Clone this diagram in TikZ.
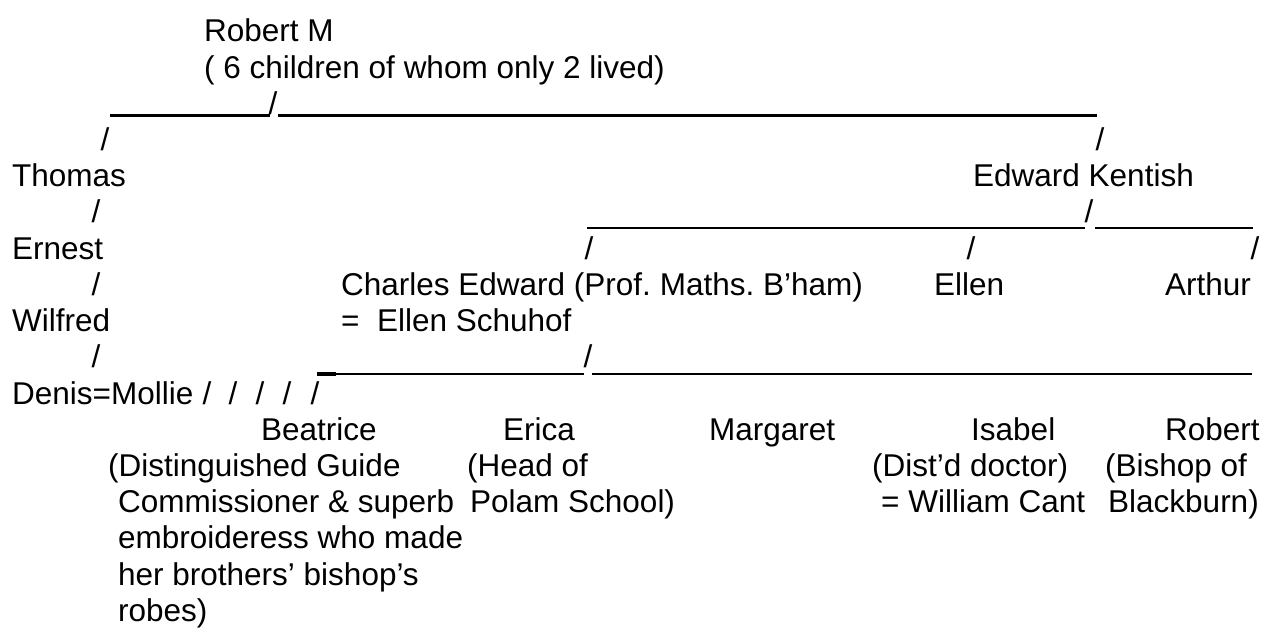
\documentclass[tikz,border=0pt]{standalone}
\usepackage{fontspec}
\setmainfont{Liberation Sans}
\usepackage{tikz}

\begin{document}
\begin{tikzpicture}[
  x=1pt, y=-1pt,
  person/.style={font=\fontsize{31.5}{36.2}\selectfont, inner sep=0pt, anchor=base west},
  slash/.style={font=\fontsize{31.5}{36.2}\selectfont, inner sep=0pt, anchor=base},
  bar/.style={line width=2pt},
  boldbar/.style={line width=3pt}
]
\useasboundingbox (0,0) rectangle (1270,631);

% first generation
\node[person] (robert) at (204,42) {Robert M};
\node[person] (kids) at (204,78.2) {( 6 children of whom only 2 lived)};

\coordinate (b1a) at (110,116);
\coordinate (b1b) at (270,116);
\coordinate (b1c) at (278,116);
\coordinate (b1d) at (1097,116);
\node[slash] (s1) at (273,114.4) {/};
\draw[boldbar] (b1a) -- (b1b);
\draw[boldbar] (b1c) -- (b1d);

\node[slash] (s2) at (105,150.6) {/};
\node[slash] (s3) at (1100,150.6) {/};

\node[person] (thomas) at (12,186.8) {Thomas};
\node[person] (edward) at (973,186.8) {Edward Kentish};

% Thomas line
\node[slash] (s4) at (96,223) {/};
\node[person] (ernest) at (12,259.2) {Ernest};
\node[slash] (s5) at (96,295.4) {/};
\node[person] (wilfred) at (12,331.6) {Wilfred};
\node[slash] (s6) at (96,367.8) {/};
\node[person] (denis) at (12,404) {Denis=Mollie};
\foreach \x [count=\i] in {207,233,260,287,315}
  \node[slash] (d\i) at (\x,404) {/};

% Edward Kentish line
\coordinate (b2a) at (587,228);
\coordinate (b2b) at (1085,228);
\coordinate (b2c) at (1095,228);
\coordinate (b2d) at (1253,228);
\node[slash] (s7) at (1089,223) {/};
\draw[bar] (b2a) -- (b2b);
\draw[bar] (b2c) -- (b2d);

\node[slash] (s8) at (589,259.2) {/};
\node[slash] (s9) at (971,259.2) {/};
\node[slash] (s10) at (1255,259.2) {/};

\node[person] (charles) at (341,295.4) {Charles Edward (Prof.\ Maths.\ B’ham)};
\node[person] (ellen) at (934,295.4) {Ellen};
\node[person] (arthur) at (1165,295.4) {Arthur};
\node[person] (schuhof) at (341,331.6) {=~~Ellen Schuhof};

% Charles Edward line
\coordinate (b3a) at (317,374);
\coordinate (b3x) at (336,374);
\coordinate (b3b) at (584,374);
\coordinate (b3c) at (592,374);
\coordinate (b3d) at (1252,374);
\node[slash] (s11) at (588,367.8) {/};
\draw[bar] (b3a) -- (b3b);
\draw[bar] (b3c) -- (b3d);
\draw[boldbar, line width=3.5pt] (b3a) -- (b3x);

\node[person] (beatrice) at (261,440.2) {Beatrice};
\node[person] (erica) at (503,440.2) {Erica};
\node[person] (margaret) at (709,440.2) {Margaret};
\node[person] (isabel) at (971,440.2) {Isabel};
\node[person] (robertb) at (1165,440.2) {Robert};

\node[person] (bea1) at (108,476.4) {(Distinguished Guide};
\node[person] (bea2) at (118,512.6) {Commissioner \& superb};
\node[person] (bea3) at (118,548.8) {embroideress who made};
\node[person] (bea4) at (118,585) {her brothers’ bishop’s};
\node[person] (bea5) at (118,621.2) {robes)};

\node[person] (eri1) at (467,476.4) {(Head of};
\node[person] (eri2) at (470,512.6) {Polam School)};

\node[person] (isa1) at (872,476.4) {(Dist’d doctor)};
\node[person] (isa2) at (881,512.6) {= William Cant};

\node[person] (rob1) at (1105,476.4) {(Bishop of};
\node[person] (rob2) at (1108,512.6) {Blackburn)};
\end{tikzpicture}
\end{document}
